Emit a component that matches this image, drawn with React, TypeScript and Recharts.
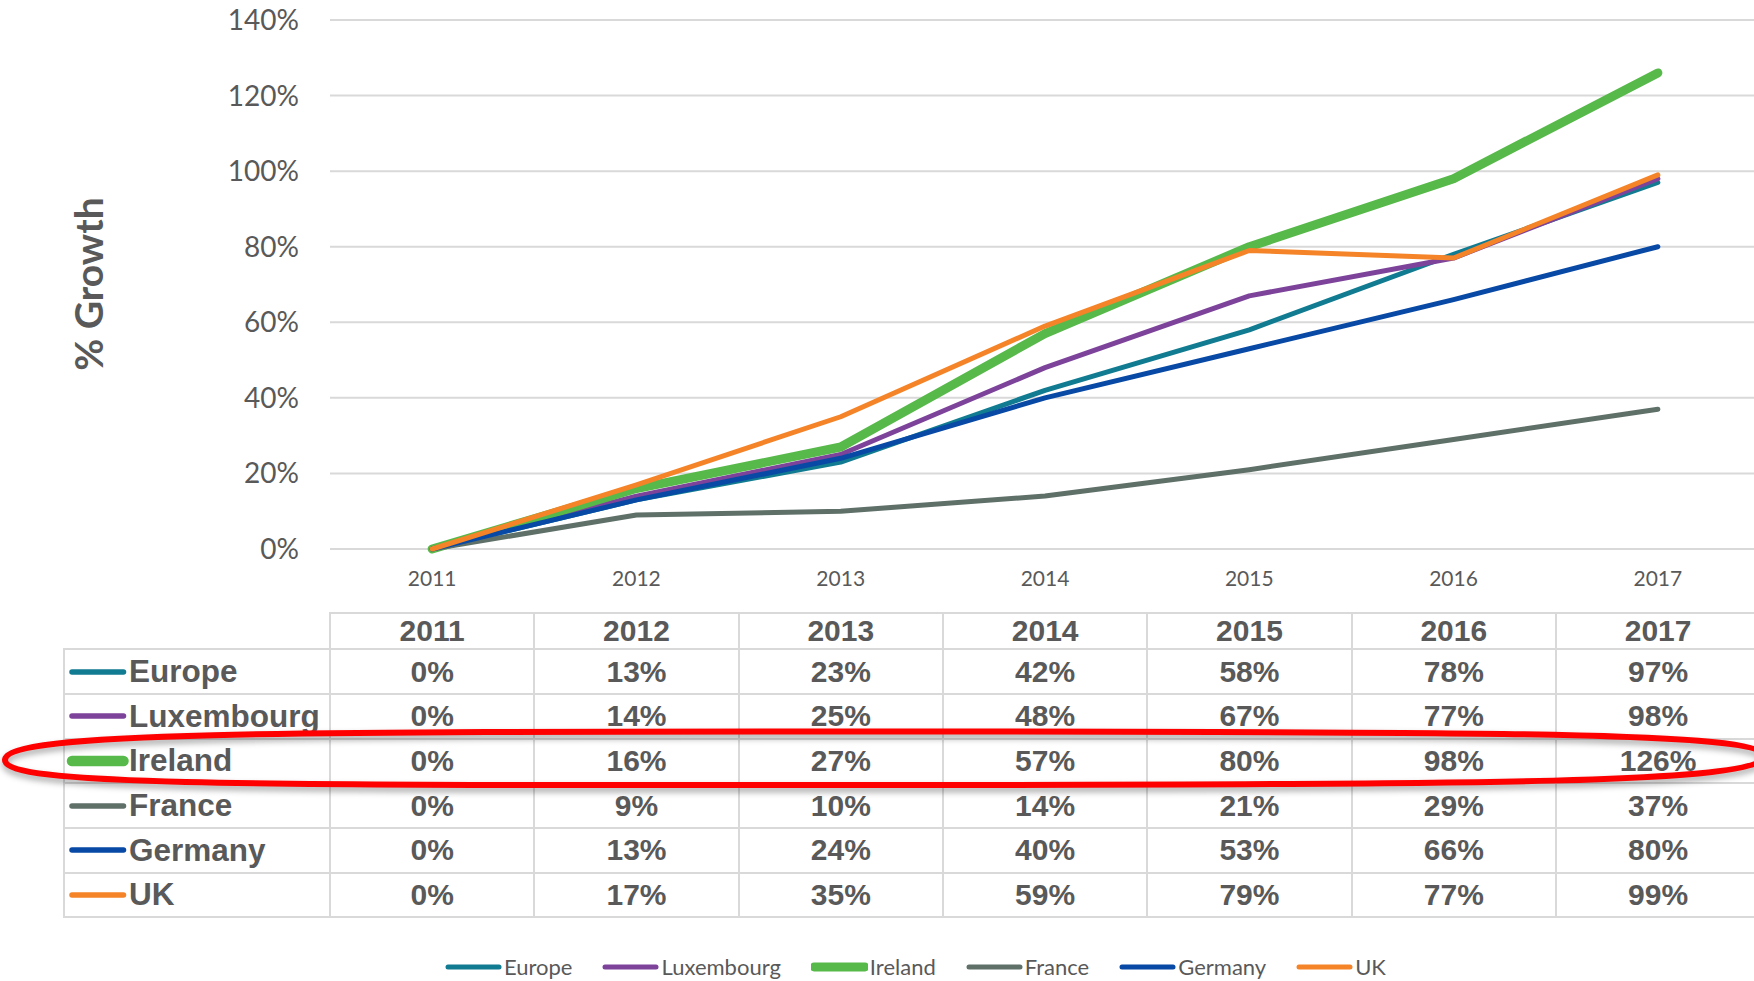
import React from 'react'
import { LineChart, Line, XAxis, YAxis, CartesianGrid, Legend, Label } from 'recharts'

const years = ['2011', '2012', '2013', '2014', '2015', '2016', '2017']
const europe = [0, 13, 23, 42, 58, 78, 97]
const luxembourg = [0, 14, 25, 48, 67, 77, 98]
const ireland = [0, 16, 27, 57, 80, 98, 126]
const france = [0, 9, 10, 14, 21, 29, 37]
const germany = [0, 13, 24, 40, 53, 66, 80]
const uk = [0, 17, 35, 59, 79, 77, 99]
const yTicks = [0, 20, 40, 60, 80, 100, 120, 140]

const series = [
  { key: 'Europe', values: europe, color: '#117b91', width: 5 },
  { key: 'Luxembourg', values: luxembourg, color: '#7d439b', width: 5 },
  { key: 'Ireland', values: ireland, color: '#58b94b', width: 9 },
  { key: 'France', values: france, color: '#5f7069', width: 5 },
  { key: 'Germany', values: germany, color: '#0749a5', width: 5 },
  { key: 'UK', values: uk, color: '#f58428', width: 5 },
]

const data = years.map((year, i) => {
  const row: Record<string, string | number> = { year }
  series.forEach(s => { row[s.key] = s.values[i] })
  return row
})

const grey = '#595959'
const border = '2px solid #d9d9d9'
const calibri = 'Lato, "Noto Sans", sans-serif'
const arial = '"Liberation Sans", Arial, sans-serif'

function LegendContent() {
  return (
    <div style={{ display: 'flex', alignItems: 'center', fontFamily: calibri, fontSize: 22, lineHeight: '24px', color: grey, whiteSpace: 'nowrap' }}>
      {series.map(s => (
        <div key={s.key} style={{ display: 'flex', alignItems: 'center', marginRight: 30 }}>
          <svg width={57} height={12}>
            <line x1={3} y1={6} x2={54} y2={6} stroke={s.color} strokeWidth={s.width} strokeLinecap="round" />
          </svg>
          <span style={{ marginLeft: 2 }}>{s.key}</span>
        </div>
      ))}
    </div>
  )
}

function DataTable() {
  const cell = (extra: React.CSSProperties): React.CSSProperties => ({
    boxSizing: 'border-box', display: 'flex', alignItems: 'center', justifyContent: 'center',
    borderLeft: border, borderTop: border, ...extra,
  })
  return (
    <div style={{
      position: 'absolute', left: 63, top: 612.3, display: 'grid',
      gridTemplateColumns: '266px repeat(7, 204.33px)',
      gridTemplateRows: '36px repeat(5, 44.67px) 46.67px',
      fontFamily: arial, fontWeight: 700, color: grey,
    }}>
      <div />
      {years.map(y => <div key={y} style={cell({ fontSize: 30 })}>{y}</div>)}
      {series.map((s, r) => {
        const last = r === series.length - 1
        const bottom = last ? { borderBottom: border } : {}
        return (
          <React.Fragment key={s.key}>
            <div style={cell({ justifyContent: 'flex-start', fontSize: 31.5, whiteSpace: 'nowrap', ...bottom })}>
              <svg width={64} height={20} style={{ flex: 'none' }}>
                <line x1={7} y1={10} x2={58.5} y2={10} stroke={s.color} strokeWidth={s.key === 'Ireland' ? 10.5 : 5.5} strokeLinecap="round" />
              </svg>
              <span>{s.key}</span>
            </div>
            {s.values.map((v, i) => (
              <div key={i} style={cell({ fontSize: 30, ...bottom })}>{v}%</div>
            ))}
          </React.Fragment>
        )
      })}
    </div>
  )
}

function Highlight() {
  const d = 'M 5 760 C 5 732 268 731.5 882 731.5 C 1497 731.5 1763 732 1763 756 C 1763 783 1497 785 882 785 C 268 785 5 787 5 760 Z'
  return (
    <svg width={1754} height={981} style={{ position: 'absolute', left: 0, top: 0, pointerEvents: 'none' }}>
      <defs>
        <filter id="blur" x="-5%" y="-50%" width="110%" height="200%">
          <feGaussianBlur stdDeviation="3" />
        </filter>
      </defs>
      <path d={d} transform="translate(0 4)" fill="none" stroke="rgba(0,0,0,0.35)" strokeWidth={6} filter="url(#blur)" />
      <path d={d} fill="none" stroke="#ff0000" strokeWidth={6} />
    </svg>
  )
}

export default function App() {
  return (
    <div style={{ position: 'absolute', left: 0, top: 0, width: 1754, height: 981, overflow: 'hidden', background: '#fff' }}>
      <LineChart width={1760} height={981} data={data} margin={{ top: 20, right: 0, bottom: 402, left: 0 }}>
        <CartesianGrid vertical={false} stroke="#d9d9d9" strokeWidth={2} />
        <XAxis
          dataKey="year" axisLine={false} tickLine={false} tickSize={0} tickMargin={22} height={30}
          padding={{ left: 102.15, right: 102.15 }} interval={0}
          tick={{ fontSize: 21, fill: grey, fontFamily: calibri }}
        />
        <YAxis
          domain={[0, 140]} ticks={yTicks} width={330} axisLine={false} tickLine={false} tickSize={0} tickMargin={31}
          tickFormatter={(v: number) => `${v}%`}
          tick={{ fontSize: 28, fill: grey, fontFamily: calibri }}
        >
          <Label content={() => (
            <text x={103} y={284} transform="rotate(-90 103 284)" textAnchor="middle"
              fontFamily={calibri} fontWeight={700} fontSize={39} fill={grey}>% Growth</text>
          )} />
        </YAxis>
        <Legend
          layout="horizontal" verticalAlign="middle" align="center"
          wrapperStyle={{ left: 445, top: 955, width: 1200, height: 24 }}
          content={() => <LegendContent />}
        />
        {series.map(s => (
          <Line
            key={s.key} type="linear" dataKey={s.key} stroke={s.color} strokeWidth={s.width}
            strokeLinecap="round" strokeLinejoin="round" dot={false} activeDot={false}
            isAnimationActive={false}
          />
        ))}
      </LineChart>
      <DataTable />
      <Highlight />
    </div>
  )
}
